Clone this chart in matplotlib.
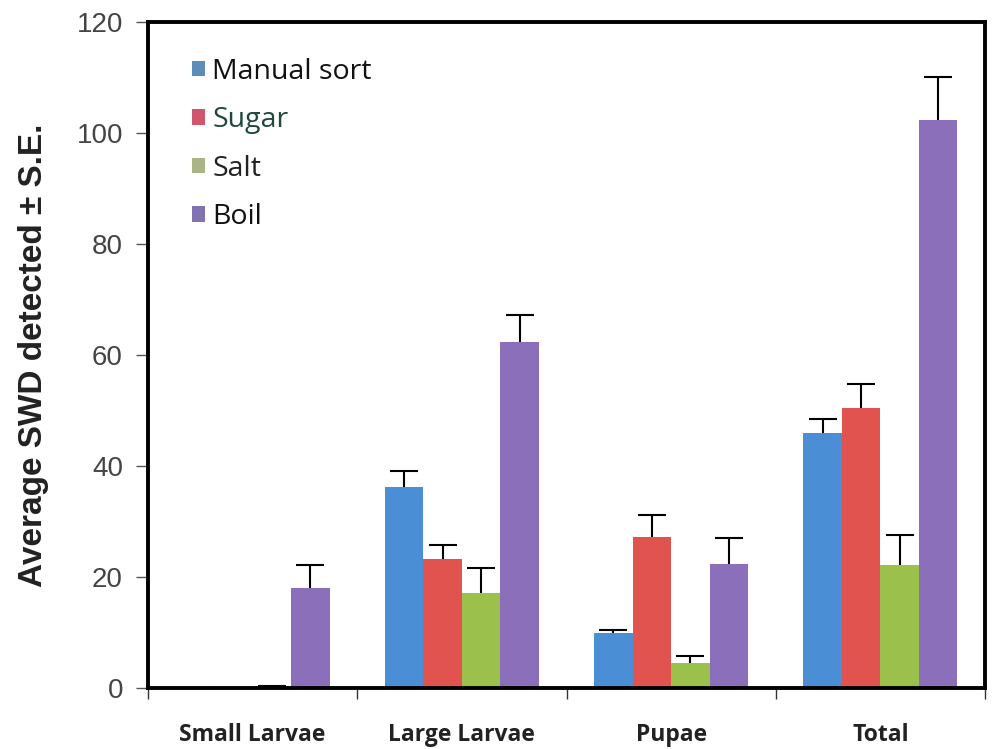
import numpy as np
import matplotlib
matplotlib.use("Agg")
import matplotlib.pyplot as plt
from matplotlib.patches import Patch

# Data
categories = ["Small Larvae", "Large Larvae", "Pupae", "Total"]
series = ["Manual sort", "Sugar", "Salt", "Boil"]
manual = [0, 36.3, 9.9, 45.9]
sugar = [0, 23.2, 27.3, 50.4]
salt = [0, 17.1, 4.6, 22.2]
boil = [18.0, 62.3, 22.4, 102.3]
manual_se = [0, 2.8, 0.5, 2.6]
sugar_se = [0, 2.6, 3.9, 4.4]
salt_se = [0.4, 4.5, 1.2, 5.4]
boil_se = [4.2, 4.9, 4.7, 7.8]

colors = ["#4a8fd6", "#e0534f", "#9cc04c", "#8c6fbb"]
legend_colors = ["#5b8db8", "#d0566a", "#a8b584", "#7f73b0"]

values = [manual, sugar, salt, boil]
errors = [manual_se, sugar_se, salt_se, boil_se]

fig = plt.figure(figsize=(9.95, 7.49), dpi=100)
ax = fig.add_axes([0.1487, 0.0814, 0.8413, 0.8892])

x = np.arange(len(categories))
w = 0.184
for i, (vals, errs) in enumerate(zip(values, errors)):
    pos = x + (i - 1.5) * w
    ax.bar(pos, vals, width=w, color=colors[i], edgecolor="none", zorder=2)
    # symmetric bars drawn underneath, so only the upper half shows
    ax.errorbar(pos, vals, yerr=errs, fmt="none", ecolor="black",
                elinewidth=1.5, capsize=10, capthick=1.5, zorder=1)

ax.set_xlim(-0.5, 3.5)
ax.set_ylim(0, 120)
ax.set_yticks(range(0, 121, 20))
ax.tick_params(axis="y", direction="out", length=9, width=1, color="#555555",
               labelsize=20, labelcolor="#444444", pad=9)
for lab in ax.get_yticklabels():
    lab.set_family("Liberation Sans")

ax.set_xticks(np.arange(-0.5, 3.6, 1.0))
ax.set_xticklabels([])
ax.tick_params(axis="x", which="major", direction="out", length=8, width=1, color="#333333")
ax.set_xticks(x, minor=True)
ax.set_xticklabels(categories, minor=True, fontsize=16.5, fontweight="bold",
                   family="Open Sans", color="#222222")
ax.tick_params(axis="x", which="minor", length=0, pad=25)

ax.set_ylabel("Average SWD detected ± S.E.", fontsize=24, fontweight="bold",
              family="Liberation Sans", color="#222222", labelpad=20)

for sp in ax.spines.values():
    sp.set_linewidth(2.8)
    sp.set_color("black")

handles = [Patch(facecolor=c, edgecolor="none") for c in legend_colors]
leg = ax.legend(handles, series, loc="upper left", bbox_to_anchor=(0.022, 0.985),
                frameon=False, prop={"family": "Open Sans", "size": 20.5},
                handlelength=0.47, handleheight=0.47, handletextpad=0.25,
                labelspacing=0.72)
for t, c in zip(leg.get_texts(), ["#111111", "#1f4a3a", "#222222", "#111111"]):
    t.set_color(c)

fig.savefig("out.png", dpi=100)
